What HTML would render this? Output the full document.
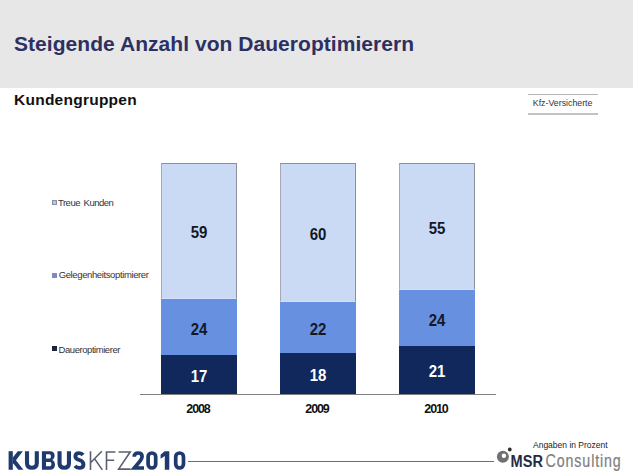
<!DOCTYPE html>
<html>
<head>
<meta charset="utf-8">
<style>
html,body{margin:0;padding:0;}
body{width:633px;height:475px;position:relative;overflow:hidden;background:#fff;font-family:"Liberation Sans",sans-serif;}
.a{position:absolute;white-space:nowrap;}
#hdr{left:0;top:0;width:633px;height:88px;background:#e7e7e7;}
#title{left:14px;top:31.9px;font-size:21px;letter-spacing:0.05px;font-weight:bold;color:#2d3062;line-height:24px;}
#sub{left:14px;top:91.3px;font-size:15.5px;letter-spacing:0.25px;font-weight:bold;color:#111;line-height:18px;}
.kfz{left:528px;width:70px;height:1px;background:#b4b4b4;}
#kfzt{left:532.8px;top:97.3px;font-size:8.8px;color:#333;line-height:12px;}
.bar{position:absolute;width:76px;}
.seg{position:absolute;left:0;width:76px;}
.l{background:#cadaf4;border:1px solid #8c9099;border-left-color:#a2a8ba;box-sizing:border-box;border-bottom:1px solid #d2e0f8;}
.m{background:#6890e0;}
.d{background:#10285c;}
.num{position:absolute;left:0;width:76px;text-align:center;font-size:16.1px;font-weight:bold;line-height:16px;transform:translateY(0.3px) scaleX(0.93);}
.num.k{color:#121826;}
.num.w{color:#fff;}
#axis{left:140px;top:394px;width:356px;height:1px;background:#808080;}
.yr{position:absolute;width:76px;text-align:center;top:402px;font-size:12.5px;letter-spacing:-1.1px;text-indent:0.6px;transform:translateX(-1.3px);font-weight:bold;color:#111;line-height:14px;}
.lg{left:52px;font-size:9.5px;color:#333;line-height:10px;}
.sq{position:absolute;left:52px;width:5px;height:5px;}
</style>
</head>
<body>
<div id="hdr" class="a"></div>
<div id="title" class="a">Steigende Anzahl von Daueroptimierern</div>
<div id="sub" class="a">Kundengruppen</div>
<div class="a kfz" style="top:94px"></div>
<div class="a kfz" style="top:113px;height:2px;background:#c2c2c2"></div>
<div id="kfzt" class="a">Kfz-Versicherte</div>

<!-- legend -->
<div class="sq" style="top:200px;background:#b9c3ea;border:1px solid #8890b0;box-sizing:border-box"></div>
<div class="a lg" style="left:58px;top:197.8px;word-spacing:1.5px;letter-spacing:-0.5px">Treue Kunden</div>
<div class="sq" style="top:273px;background:#8288c6"></div>
<div class="a lg" style="left:58.7px;top:270.3px;letter-spacing:-0.38px">Gelegenheitsoptimierer</div>
<div class="sq" style="top:346px;background:#1d2440"></div>
<div class="a lg" style="left:58.6px;top:344.9px;letter-spacing:-0.45px">Daueroptimierer</div>

<!-- bars -->
<div class="bar" style="left:161px;top:163px;height:231px">
  <div class="seg l" style="top:0;height:136px"></div>
  <div class="seg m" style="top:136px;height:56px"></div>
  <div class="seg d" style="top:192px;height:39px"></div>
  <div class="num k" style="top:61px">59</div>
  <div class="num k" style="top:157.5px">24</div>
  <div class="num w" style="top:204.5px">17</div>
</div>
<div class="bar" style="left:280px;top:163px;height:231px">
  <div class="seg l" style="top:0;height:139px"></div>
  <div class="seg m" style="top:139px;height:51px"></div>
  <div class="seg d" style="top:190px;height:41px"></div>
  <div class="num k" style="top:62.5px">60</div>
  <div class="num k" style="top:157.5px">22</div>
  <div class="num w" style="top:204px">18</div>
</div>
<div class="bar" style="left:399px;top:163px;height:231px">
  <div class="seg l" style="top:0;height:127px"></div>
  <div class="seg m" style="top:127px;height:56px"></div>
  <div class="seg d" style="top:183px;height:48px"></div>
  <div class="num k" style="top:56.5px">55</div>
  <div class="num k" style="top:148.7px">24</div>
  <div class="num w" style="top:199.5px">21</div>
</div>
<div id="axis" class="a"></div>
<div class="yr" style="left:161px">2008</div>
<div class="yr" style="left:280px">2009</div>
<div class="yr" style="left:399px">2010</div>

<!-- footer -->
<svg class="a" style="left:0;top:0" width="633" height="475" viewBox="0 0 633 475">
  <g fill="#1f3a6e">
    <path d="M8.6 451.2H12.8V469.8H8.6Z"/>
    <path d="M12.8 457.5L17.7 451.2H22.8L12.8 464.5Z"/>
    <path d="M15.3 459.5L23.4 469.8H18.3L12.8 462.8Z"/>
    <path fill-rule="evenodd" d="M41.9 451.2H50.2C53.2 451.2 54.6 453 54.6 455.5C54.6 457.5 53.6 459.2 52.2 460C54 460.8 55 462.5 55 464.8C55 467.8 53.2 469.8 50 469.8H41.9ZM46 454.3H49.5C50.5 454.3 50.9 455.2 50.9 456.4C50.9 457.6 50.4 458.5 49.5 458.5H46ZM46 462H50C51 462 51.4 463 51.4 464.1C51.4 465.3 50.9 466.2 50 466.2H46Z"/>
  </g>
  <g fill="none" stroke="#1f3a6e" stroke-width="4.1">
    <path d="M27 451.2V463C27 466.8 29 467.8 31.9 467.8C34.8 467.8 36.8 466.8 36.8 463V451.2"/>
    <path d="M59.55 451.2V463C59.55 466.8 61.5 467.8 64.25 467.8C67 467.8 68.95 466.8 68.95 463V451.2"/>
    <path stroke-width="3.9" d="M83 455C82 453.7 80.6 453.15 79.2 453.15C76.8 453.15 75.4 454.4 75.4 456.4C75.4 458.6 77 459.3 79.4 460C82 460.8 83.45 461.8 83.45 464.4C83.45 466.7 81.8 467.85 79.3 467.85C77.5 467.85 76 467.2 75 465.9"/>
  </g>
  <g fill="none" stroke="#5a6072" stroke-width="1.6">
    <path d="M90.5 451.2V469.9M101.8 451.2L90.8 462.5M94.5 458.6L102.3 469.9"/>
    <path d="M106.5 469.9V452H115.4M106.5 460.3H114.2"/>
    <path d="M118.6 452H130.2L118.6 469.1H130.6"/>
  </g>
  <g fill="none" stroke="#1f3a6e" stroke-width="3.7">
    <path d="M134.2 456.8C134.2 454 135.8 453 138.2 453C140.6 453 142.1 454.3 142.1 456.6C142.1 458.2 141.4 459.3 140.2 460.8L134.3 468H144"/>
    <rect x="148.1" y="453" width="7.6" height="15" rx="3.8"/>
    <rect x="175.7" y="453" width="7.8" height="15" rx="3.9"/>
  </g>
  <path fill="#1f3a6e" d="M164.8 451.2H169.3V469.8H164.8V456L160.6 458.8V454.8L164.6 451.2Z"/>
  <rect x="188" y="461" width="306" height="1" fill="#6e6e6e"/>
  <circle cx="502.9" cy="456.7" r="6" fill="#707070"/>
  <circle cx="503.9" cy="455.8" r="2.2" fill="#fff"/>
  <circle cx="509.8" cy="449.5" r="1.9" fill="#2e2e2e"/>
  <text x="510.6" y="467" font-family="Liberation Sans" font-weight="bold" font-size="16.8" fill="#262b45" textLength="32.4" lengthAdjust="spacingAndGlyphs">MSR</text>
  <text transform="translate(545.6 467.3) scale(0.8 1)" font-family="Liberation Sans" font-size="17.8" fill="#7e7e7e" stroke="#7e7e7e" stroke-width="0.2" textLength="94" lengthAdjust="spacing">Consulting</text>
</svg>
<div class="a" style="left:533px;top:438.5px;font-size:8.5px;color:#222;line-height:12px">Angaben in Prozent</div>
</body>
</html>
